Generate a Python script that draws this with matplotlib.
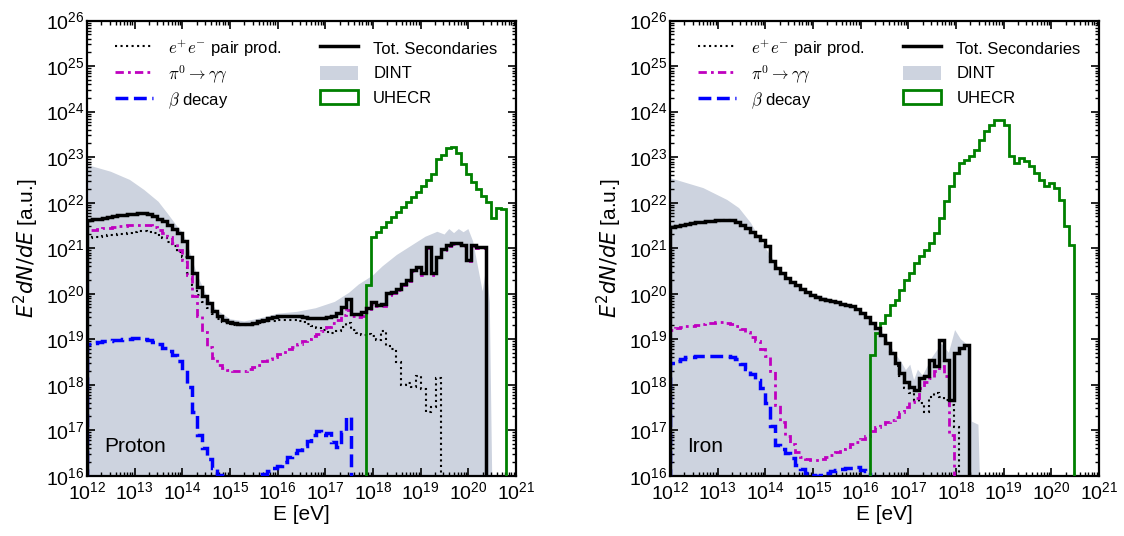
import numpy as np
import matplotlib
matplotlib.use("Agg")
import matplotlib.pyplot as plt
from matplotlib.lines import Line2D
from matplotlib.patches import Patch, Rectangle
from matplotlib.legend_handler import HandlerPatch
from matplotlib.ticker import LogLocator, NullFormatter

plt.rcParams['font.family'] = ['Liberation Sans', 'DejaVu Sans']
plt.rcParams['mathtext.fontset'] = 'cm'

# log-energy binning, 86 bins from 1e12 to 1e21 eV
n_bins = 86
edges = np.logspace(12, 21, n_bins + 1)

# all series: log10(E^2 dN/dE), one value per bin, first bin index given by *_start

# ---------------- proton ----------------
p_tot_start = 0
p_tot = [21.61, 21.63, 21.65, 21.67, 21.69, 21.70, 21.72, 21.73, 21.74, 21.76,
         21.77, 21.77, 21.75, 21.71, 21.65, 21.60, 21.51, 21.43, 21.33, 21.15,
         20.80, 20.45, 20.15, 19.95, 19.80, 19.63, 19.52, 19.43, 19.38, 19.35,
         19.34, 19.33, 19.34, 19.36, 19.39, 19.43, 19.46, 19.48, 19.50, 19.51,
         19.52, 19.52, 19.51, 19.49, 19.47, 19.46, 19.46, 19.47, 19.48, 19.52,
         19.57, 19.70, 19.88, 19.56, 19.55, 19.60, 19.68, 19.82, 19.75, 19.77,
         20.01, 20.04, 20.11, 20.22, 20.30, 20.52, 20.59, 20.45, 21.03, 20.45,
         20.81, 20.99, 21.07, 21.12, 21.12, 21.07, 20.74, 21.07, 21.03, 21.03]

p_pi0_start = 0
p_pi0 = [21.39, 21.41, 21.43, 21.44, 21.45, 21.47, 21.48, 21.49, 21.50, 21.51,
         21.52, 21.52, 21.50, 21.46, 21.41, 21.33, 21.24, 21.12, 20.95, 20.75,
         20.40, 19.95, 19.52, 19.15, 18.82, 18.58, 18.44, 18.37, 18.32, 18.30,
         18.30, 18.31, 18.34, 18.38, 18.44, 18.51, 18.56, 18.61, 18.67, 18.72,
         18.78, 18.83, 18.89, 18.95, 19.01, 19.06, 19.11, 19.19, 19.27, 19.35,
         19.43, 19.53, 19.65, 19.50, 19.48, 19.52, 19.62, 19.78, 19.72, 19.74,
         19.98, 20.01, 20.08, 20.19, 20.27, 20.49, 20.56, 20.42, 21.00, 20.42,
         20.78, 20.96, 21.04, 21.09, 21.09, 21.04, 20.71, 21.04, 21.00, 21.00]

p_pair_start = 0
p_pair = [21.22, 21.24, 21.25, 21.27, 21.28, 21.29, 21.31, 21.32, 21.34, 21.35,
          21.37, 21.38, 21.36, 21.33, 21.28, 21.22, 21.14, 21.04, 20.92, 20.80,
          20.45, 20.18, 19.98, 19.82, 19.68, 19.55, 19.45, 19.38, 19.34, 19.32,
          19.31, 19.31, 19.32, 19.34, 19.36, 19.38, 19.40, 19.41, 19.42, 19.43,
          19.43, 19.42, 19.40, 19.38, 19.34, 19.30, 19.25, 19.21, 19.16, 19.13,
          19.18, 19.26, 19.36, 19.20, 19.14, 19.10, 19.12, 19.06, 18.98, 19.18,
          18.86, 18.78, 18.50, 18.00, 18.03, 17.96, 18.18, 17.90, 17.40, 17.50,
          18.14]

p_beta_start = 0
p_beta = [18.90, 18.92, 18.94, 18.96, 18.97, 18.98, 18.99, 19.00, 19.01, 19.02,
          19.02, 19.01, 18.98, 18.94, 18.89, 18.81, 18.73, 18.65, 18.52, 18.32,
          17.95, 17.40, 16.90, 16.60, 16.36, 16.18, 16.02, 15.85, 15.70, 15.60,
          15.55, 15.55, 15.60, 15.75, 15.95, 16.04, 16.10, 16.16, 16.22, 16.31,
          16.40, 16.49, 16.57, 16.65, 16.76, 16.89, 16.98, 16.90, 16.93, 16.75,
          16.62, 16.95, 17.30]

p_uhecr_start = 56
p_uhecr = [20.19, 21.25, 21.36, 21.47, 21.58, 21.69, 21.80, 21.91, 22.02, 22.13,
           22.24, 22.36, 22.50, 22.62, 22.95, 23.05, 23.20, 23.22, 23.10, 22.85,
           22.62, 22.45, 22.30, 22.15, 22.02, 21.66, 21.88, 21.86]

p_dint_logE = [12.0, 12.5, 12.9, 13.2, 13.5, 13.7, 13.9, 14.0, 14.1, 14.2,
               14.3, 14.5, 14.7, 15.0, 15.3, 15.6, 16.0, 16.4, 16.8, 17.2,
               17.5, 17.7, 18.0, 18.2, 18.5, 18.8, 19.1, 19.35, 19.5, 19.6,
               19.7, 19.8, 19.9, 20.0, 20.1, 20.2, 20.3, 20.38, 20.45, 20.5]
p_dint = [22.83, 22.68, 22.50, 22.28, 22.02, 21.75, 21.47, 21.35, 21.12, 20.78,
          20.45, 19.98, 19.66, 19.44, 19.39, 19.45, 19.56, 19.60, 19.68, 19.82,
          20.02, 20.20, 20.40, 20.60, 20.85, 21.05, 21.25, 21.36, 21.30, 21.42,
          21.33, 21.42, 21.35, 21.42, 21.15, 20.60, 20.05, 20.60, 19.80, 16.0]

# ---------------- iron ----------------
fe_tot_start = 0
fe_tot = [21.47, 21.49, 21.52, 21.54, 21.56, 21.57, 21.58, 21.59, 21.60, 21.61,
          21.62, 21.62, 21.61, 21.58, 21.52, 21.44, 21.35, 21.27, 21.18, 21.05,
          20.72, 20.56, 20.45, 20.35, 20.26, 20.18, 20.11, 20.04, 19.97, 19.92,
          19.88, 19.86, 19.84, 19.81, 19.78, 19.76, 19.72, 19.67, 19.58, 19.48,
          19.36, 19.24, 19.10, 18.92, 18.70, 18.48, 18.26, 18.05, 17.95, 17.89,
          18.14, 18.18, 18.55, 18.40, 18.99, 18.55, 17.67, 18.69, 18.80, 18.88]

fe_pi0_start = 0
fe_pi0 = [19.21, 19.24, 19.26, 19.28, 19.30, 19.32, 19.34, 19.35, 19.36, 19.37,
          19.37, 19.36, 19.33, 19.28, 19.22, 19.15, 19.05, 18.95, 18.78, 18.62,
          18.30, 17.55, 17.18, 16.88, 16.70, 16.53, 16.42, 16.37, 16.35, 16.35,
          16.36, 16.40, 16.46, 16.52, 16.58, 16.64, 16.69, 16.73, 16.80, 16.87,
          16.98, 17.07, 17.14, 17.18, 17.22, 17.30, 17.40, 17.52, 17.62, 17.70,
          17.93, 18.07, 18.14, 18.29, 18.40, 18.18, 16.90]

fe_pair_start = 0
fe_pair = [21.46, 21.48, 21.51, 21.53, 21.55, 21.56, 21.57, 21.58, 21.59, 21.60,
           21.61, 21.61, 21.60, 21.57, 21.51, 21.43, 21.34, 21.26, 21.17, 21.04,
           20.71, 20.55, 20.44, 20.34, 20.25, 20.17, 20.10, 20.03, 19.96, 19.91,
           19.87, 19.85, 19.83, 19.80, 19.77, 19.75, 19.71, 19.66, 19.57, 19.47,
           19.34, 19.22, 19.08, 18.90, 18.67, 18.42, 18.18, 17.92, 17.82, 17.67,
           17.60, 17.41, 17.74, 17.82, 17.74, 17.67, 17.55, 17.08]

fe_beta_start = 0
fe_beta = [18.48, 18.53, 18.57, 18.60, 18.61, 18.62, 18.63, 18.63, 18.64, 18.64,
           18.63, 18.62, 18.60, 18.56, 18.45, 18.34, 18.24, 18.10, 17.92, 17.60,
           17.10, 16.68, 16.58, 16.50, 16.38, 16.24, 16.14, 16.07, 16.02, 16.00,
           16.02, 16.05, 16.10, 16.13, 16.15, 16.17, 16.18, 16.19, 16.13, 16.10]

fe_uhecr_start = 40
fe_uhecr = [18.66, 19.13, 19.35, 19.54, 19.76, 19.87, 20.08, 20.30, 20.45, 20.67,
            20.82, 20.96, 21.11, 21.33, 21.66, 22.03, 22.36, 22.65, 22.87, 22.94,
            23.02, 23.16, 23.38, 23.57, 23.71, 23.82, 23.82, 23.71, 23.02, 22.87,
            22.98, 22.91, 22.80, 22.65, 22.50, 22.36, 22.43, 22.32, 22.06, 21.48,
            21.07]

fe_dint_logE = [12.0, 12.7, 13.2, 13.45, 13.7, 13.9, 14.1, 14.3, 14.5, 14.8,
                15.0, 15.5, 15.9, 16.1, 16.3, 16.5, 16.7, 16.85, 16.95, 17.04,
                17.12, 17.2, 17.3, 17.5, 17.7, 17.85, 17.98, 18.1, 18.28, 18.33,
                18.47, 18.5]
fe_dint = [22.54, 22.32, 22.06, 21.88, 21.55, 21.18, 20.85, 20.55, 20.33, 20.12,
           20.00, 19.84, 19.72, 19.55, 19.32, 19.10, 18.72, 18.50, 18.32, 18.44,
           18.10, 18.33, 18.20, 18.60, 18.90, 18.70, 19.20, 19.00, 18.84, 17.19,
           17.12, 16.0]

dint_color = '#cdd3df'
labels = [r'$e^{+}e^{-}$ pair prod.', r'$\pi^0\rightarrow\gamma\gamma$', r'$\beta$ decay',
          'Tot. Secondaries', 'DINT', 'UHECR']


def hist(ax, start, vals, **kw):
    v = 10.0 ** np.asarray(vals)
    ax.stairs(v, edges[start:start + len(v) + 1], baseline=1e10, **kw)


def small_box(legend, orig_handle, xdescent, ydescent, width, height, fontsize):
    h = 0.85 * fontsize
    return Rectangle((-xdescent, -ydescent + (height - h) / 2), width, h)


def panel(ax, name, tot, pi0, pair, beta, uhecr, dint_x, dint_y):
    ax.fill_between(10.0 ** np.asarray(dint_x), 1e10, 10.0 ** np.asarray(dint_y),
                    color=dint_color, lw=0, zorder=1)
    hist(ax, pair[0], pair[1], color='k', ls=':', lw=1.5, zorder=3)
    hist(ax, pi0[0], pi0[1], color='m', ls=(0, (3, 1.5, 1, 1.5)), lw=2, zorder=3)
    hist(ax, beta[0], beta[1], color='b', ls='--', lw=2.5, zorder=3)
    hist(ax, uhecr[0], uhecr[1], color='g', lw=2, zorder=4)
    hist(ax, tot[0], tot[1], color='k', lw=2.5, zorder=5)

    ax.set_xscale('log')
    ax.set_yscale('log')
    ax.set_xlim(1e12, 1e21)
    ax.set_ylim(1e16, 1e26)
    for axis in (ax.xaxis, ax.yaxis):
        axis.set_major_locator(LogLocator(base=10, numticks=20))
        axis.set_minor_locator(LogLocator(base=10, subs=np.arange(2, 10), numticks=200))
        axis.set_minor_formatter(NullFormatter())
    ax.tick_params(which='both', direction='in', top=True, right=True, labelsize=14)
    ax.tick_params(axis='x', pad=4)
    ax.tick_params(axis='y', pad=2)
    ax.tick_params(which='major', length=6, width=1.2)
    ax.tick_params(which='minor', length=3, width=1)
    for s in ax.spines.values():
        s.set_linewidth(1.6)

    ax.set_xlabel('E [eV]', fontsize=15, labelpad=1)
    ax.set_ylabel(r'$E^2dN/dE$ [a.u.]', fontsize=15, math_fontfamily='dejavusans', labelpad=3)
    ax.text(0.04, 0.065, name, transform=ax.transAxes, fontsize=15, va='center')

    handles = [Line2D([], [], color='k', ls=':', lw=1.5),
               Line2D([], [], color='m', ls=(0, (3, 1.5, 1, 1.5)), lw=2),
               Line2D([], [], color='b', ls='--', lw=2.5),
               Line2D([], [], color='k', lw=2.5),
               Patch(facecolor=dint_color, edgecolor='none'),
               Patch(facecolor='none', edgecolor='g', lw=2)]
    ax.legend(handles, labels, ncol=2, loc='upper left', bbox_to_anchor=(0.03, 0.995),
              frameon=False, fontsize=12, handlelength=2.3, handleheight=1.45,
              columnspacing=2.3, labelspacing=0.27, handletextpad=0.9,
              handler_map={Patch: HandlerPatch(patch_func=small_box)})


fig = plt.figure(figsize=(11.24, 5.36), dpi=100)
ax1 = fig.add_axes([0.0774, 0.1125, 0.3817, 0.849])
ax2 = fig.add_axes([0.5961, 0.1125, 0.3817, 0.849])

panel(ax1, 'Proton', (p_tot_start, p_tot), (p_pi0_start, p_pi0), (p_pair_start, p_pair),
      (p_beta_start, p_beta), (p_uhecr_start, p_uhecr), p_dint_logE, p_dint)
panel(ax2, 'Iron', (fe_tot_start, fe_tot), (fe_pi0_start, fe_pi0), (fe_pair_start, fe_pair),
      (fe_beta_start, fe_beta), (fe_uhecr_start, fe_uhecr), fe_dint_logE, fe_dint)

fig.savefig('out.png', dpi=100)
